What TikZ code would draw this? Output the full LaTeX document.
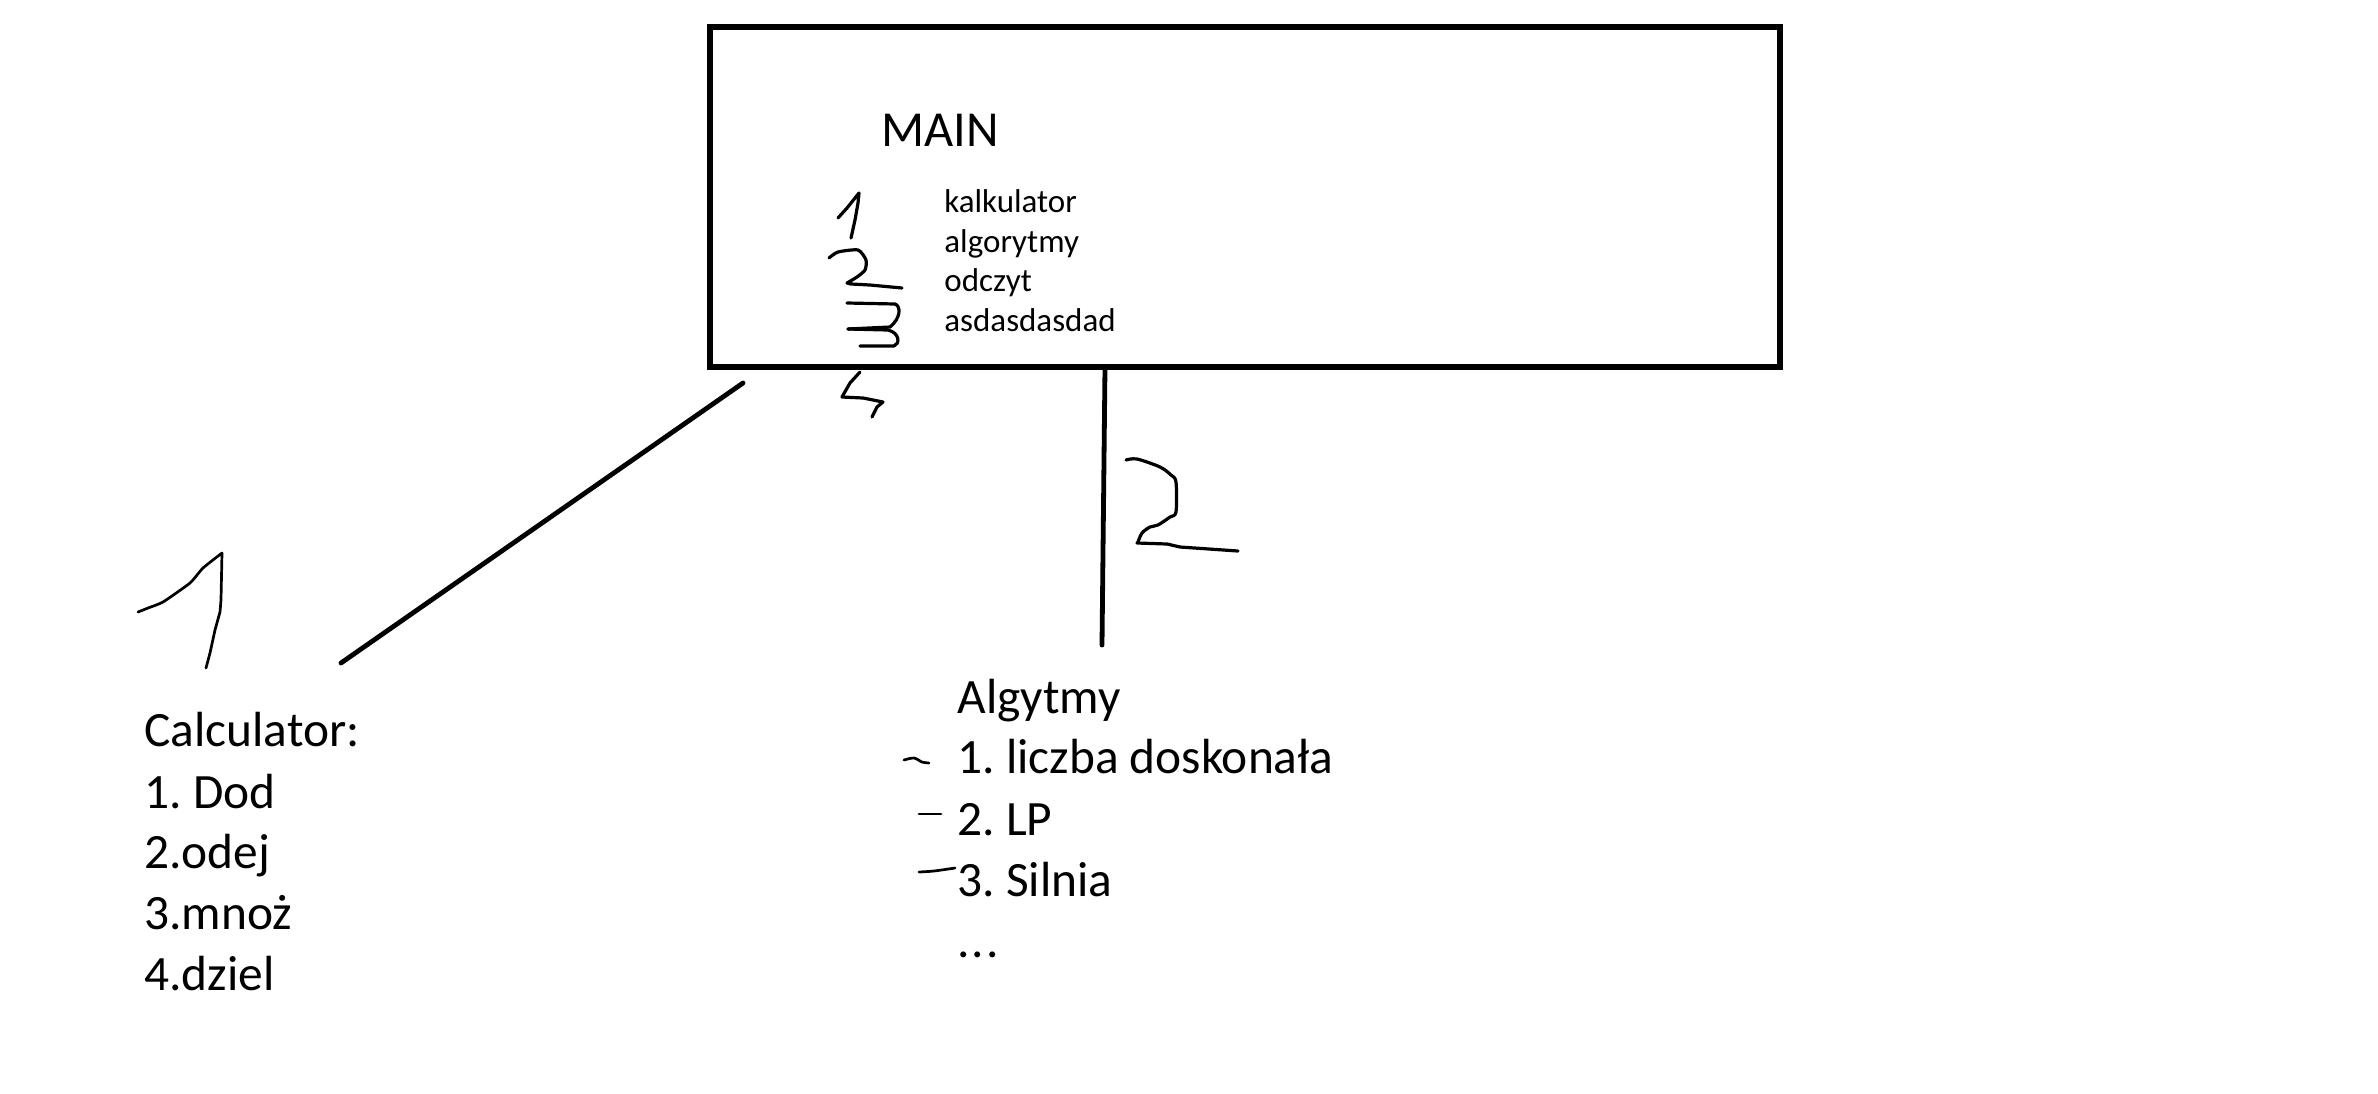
\documentclass[tikz,border=0pt]{standalone}
\usepackage{fontspec}
\setmainfont{Carlito}
\frenchspacing
\begin{document}
\begin{tikzpicture}[x=0.5pt,y=-0.5pt,
  big/.style={anchor=base west, inner sep=0pt, font=\fontsize{24.7}{29}\selectfont},
  small/.style={anchor=base west, inner sep=0pt, font=\fontsize{16.5}{19}\selectfont},
  frame/.style={draw, line width=2.6pt, inner sep=0pt},
  conn/.style={line width=2.4pt, line cap=round},
  hand/.style={line width=1.6pt, line cap=round, line join=round},
  thin hand/.style={line width=1.35pt, line cap=round, line join=round}]
\useasboundingbox (0,0) rectangle (2378,1093);

% main box
\node[frame, minimum width=535pt, minimum height=170pt] (main) at (1245,197) {};
\node[big, font=\fontsize{25.2}{29}\selectfont] (title) at (881,146) {MAIN};
\node[small] (m1) at (944,212) {kalkulator};
\node[small] (m2) at (944,252) {algorytmy};
\node[small] (m3) at (944,291) {odczyt};
\node[small] (m4) at (944,331) {asdasdasdad};

% calculator list
\node[big] (c0) at (144,746) {Calculator:};
\node[big] (c1) at (144,808) {1. Dod};
\node[big] (c2) at (144,868) {2.odej};
\node[big] (c3) at (144,929) {3.mnoż};
\node[big] (c4) at (144,990) {4.dziel};

% algorithms list
\node[big] (a0) at (957,713) {Algytmy};
\node[big] (a1) at (957,773) {1. liczba doskonała};
\node[big] (a2) at (957,835) {2. LP};
\node[big] (a3) at (957,896) {3. Silnia};
\node[big] (a4) at (957,957) {.\kern1pt.\kern1pt.};

% connectors
\coordinate (d1) at (743,383);
\coordinate (d2) at (341,663);
\coordinate (v1) at (1105,367);
\coordinate (v2) at (1102,645);
\draw[conn] (d1) -- (d2);
\draw[conn] (v1) -- (v2);

% handwritten numbers inside box
\draw[hand] (838,218) -- (847,208) -- (859,193) -- (858,203) -- (855,220) -- (851,238);
\draw[hand] plot[smooth, tension=0.4] coordinates {(829,258) (838,252) (858,250) (866,260) (865,270) (857,277) (847,283)} -- (851,284) -- (870,285) -- (902,288);
\draw[hand] (847,303) -- (895,304) .. controls (901,306) and (901,318) .. (890,327) -- (848,329);
\draw[hand] (848,329) -- (888,330) .. controls (900,333) and (900,344) .. (894,346) -- (860,346);
\draw[hand] (860,372) -- (850,383) -- (842,397) -- (863,398) -- (883,402) -- (877,407) -- (872,417);

% big handwritten 1
\draw[thin hand] plot[smooth, tension=0.3] coordinates {(138,612) (148,608) (163,602) (190,583) (203,568) (222,553)} -- (221,600) -- (220,612) -- (215,630) -- (210,653) -- (206,668);

% big handwritten 2
\draw[hand] plot[smooth, tension=0.5] coordinates {(1126,460) (1137,459) (1160,467) (1171,475) (1176,482) (1176,512) (1170,517) (1158,525) (1150,527) (1142,533) (1138,542)} -- (1137,543) -- (1167,544) -- (1180,547) -- (1238,551);

% small dashes by algorithm list
\draw[thin hand] plot[smooth, tension=0.5] coordinates {(904,760) (914,758) (922,762) (929,763)};
\draw[thin hand] (919,814) -- (941,814);
\draw[thin hand] plot[smooth, tension=0.5] coordinates {(919,872) (934,871) (955,868)};
\end{tikzpicture}
\end{document}
